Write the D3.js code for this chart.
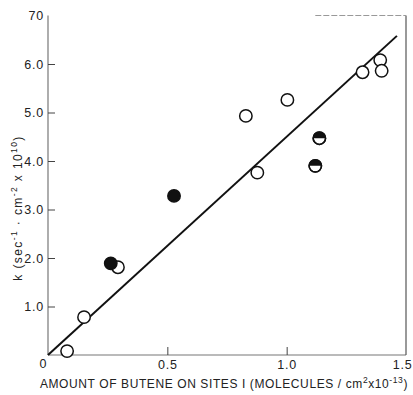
<!DOCTYPE html>
<html>
<head>
<meta charset="utf-8">
<script src="https://cdn.jsdelivr.net/npm/d3@7"></script>
<style>
  html, body { margin: 0; padding: 0; background: #fff; }
  svg { display: block; }
  text { font-family: "Liberation Sans", Arial, sans-serif; fill: #222; }
</style>
</head>
<body>
<div id="chart"></div>
<script>
// Butene coverage on sites I (x 10^13 molecules/cm^2) vs rate constant k (x 10^10)
const openX   = [0.08, 0.151, 0.293, 0.829, 0.877, 1.003, 1.318, 1.392, 1.398];
const openY   = [0.08, 0.78, 1.81, 4.93, 3.76, 5.26, 5.83, 6.08, 5.86];
const filledX = [0.263, 0.528];
const filledY = [1.89, 3.28];
const halfX   = [1.12, 1.137];
const halfY   = [3.90, 4.47];

// fitted line through the origin
const fitX = [0, 1.462];
const fitY = [0, 6.58];

const xTickValues = [0.5, 1.0, 1.5];
const xTickLabels = ["0.5", "1.0", "1.5"];
const yTickValues = [1, 2, 3, 4, 5, 6, 7];
const yTickLabels = ["1.0", "2.0", "3.0", "4.0", "5.0", "6.0", "70"];

const W = 413, H = 395;
const svg = d3.select("#chart").append("svg").attr("width", W).attr("height", H);

const x = d3.scaleLinear().domain([0, 1.5]).range([48, 406]);
const y = d3.scaleLinear().domain([0, 7]).range([355, 15.5]);

const axisColor = "#777";
const tickFont = "12.5px";

// frame: left, bottom, right, and the visible part of the top edge
svg.append("line").attr("x1", x(0)).attr("x2", x(0)).attr("y1", y(0)).attr("y2", y(7))
  .attr("stroke", axisColor).attr("stroke-width", 1.2);
svg.append("line").attr("x1", x(0)).attr("x2", x(1.5)).attr("y1", y(0)).attr("y2", y(0))
  .attr("stroke", axisColor).attr("stroke-width", 1.2);
svg.append("line").attr("x1", x(1.5)).attr("x2", x(1.5)).attr("y1", y(0)).attr("y2", y(7))
  .attr("stroke", "#555").attr("stroke-width", 1.2);
svg.append("line").attr("x1", x(1.12)).attr("x2", x(1.5)).attr("y1", y(7)).attr("y2", y(7))
  .attr("stroke", "#999").attr("stroke-width", 1).attr("stroke-dasharray", "6,2");

// y axis: inward ticks, labels on the left
const yAxis = d3.axisRight(y).tickValues(yTickValues).tickSize(7)
  .tickFormat((d, i) => yTickLabels[i]);
const gy = svg.append("g").attr("transform", `translate(${x(0)},0)`).call(yAxis);
gy.select(".domain").remove();
gy.selectAll(".tick line").attr("stroke", "#444").attr("stroke-width", 1);
gy.selectAll(".tick text").attr("x", -4).attr("text-anchor", "end")
  .style("font-size", tickFont).style("letter-spacing", "0.8px")
  .style("font-family", "Liberation Sans, Arial, sans-serif").attr("fill", "#222");
gy.selectAll(".tick").filter(d => d === 7).select("line").remove();

// x axis: inward ticks, labels below
const xAxis = d3.axisTop(x).tickValues(xTickValues).tickSize(8)
  .tickFormat((d, i) => xTickLabels[i]);
const gx = svg.append("g").attr("transform", `translate(0,${y(0)})`).call(xAxis);
gx.select(".domain").remove();
gx.selectAll(".tick line").attr("stroke", "#444").attr("stroke-width", 1);
gx.selectAll(".tick").filter(d => d === 1.5).select("line").remove();
gx.selectAll(".tick text").attr("y", 5).attr("dy", "0.71em")
  .style("font-size", tickFont).style("letter-spacing", "0.8px")
  .style("font-family", "Liberation Sans, Arial, sans-serif").attr("fill", "#222");
// keep the last label inside the page
gx.selectAll(".tick").filter(d => d === 1.5).select("text")
  .attr("text-anchor", "end").attr("x", 6);

// shared origin label
svg.append("text").attr("x", x(0) - 5).attr("y", y(0) + 13).attr("text-anchor", "middle")
  .style("font-size", tickFont).text("0");

// axis titles
svg.append("text")
  .attr("x", 224).attr("y", 388).attr("text-anchor", "middle")
  .style("font-size", "12px").style("letter-spacing", "0.6px")
  .html('AMOUNT OF BUTENE ON SITES I (MOLECULES / cm<tspan dy="-5" font-size="8.5">2</tspan><tspan dy="5">x10</tspan><tspan dy="-5" font-size="8.5">-13</tspan><tspan dy="5">)</tspan>');

svg.append("text")
  .attr("transform", "translate(22,208) rotate(-90)")
  .attr("text-anchor", "middle")
  .style("font-size", "12px").style("letter-spacing", "1.4px")
  .html('k (sec<tspan dy="-5" font-size="8.5">-1</tspan><tspan dy="5"> · cm</tspan><tspan dy="-5" font-size="8.5">-2</tspan><tspan dy="5"> x 10</tspan><tspan dy="-5" font-size="8.5">10</tspan><tspan dy="5">)</tspan>');

// fitted line
const line = d3.line().x((d, i) => x(fitX[i])).y((d, i) => y(fitY[i]));
svg.append("path").datum(fitX).attr("d", line)
  .attr("fill", "none").attr("stroke", "#111").attr("stroke-width", 2);

const R = 6.2;

// open circles
svg.append("g").selectAll("circle").data(openX).join("circle")
  .attr("cx", d => x(d)).attr("cy", (d, i) => y(openY[i])).attr("r", R)
  .attr("fill", "#fff").attr("stroke", "#111").attr("stroke-width", 1.5);

// filled circles
svg.append("g").selectAll("circle").data(filledX).join("circle")
  .attr("cx", d => x(d)).attr("cy", (d, i) => y(filledY[i])).attr("r", R)
  .attr("fill", "#111").attr("stroke", "#111").attr("stroke-width", 1.5);

// half-filled circles: dark upper half
const half = svg.append("g").selectAll("g").data(halfX).join("g")
  .attr("transform", (d, i) => `translate(${x(d)},${y(halfY[i])})`);
half.append("circle").attr("r", R).attr("fill", "#fff").attr("stroke", "#111").attr("stroke-width", 1.5);
half.append("path")
  .attr("d", d3.arc()({ innerRadius: 0, outerRadius: R, startAngle: -Math.PI / 2, endAngle: Math.PI / 2 }))
  .attr("fill", "#111");
half.append("circle").attr("r", R).attr("fill", "none").attr("stroke", "#111").attr("stroke-width", 1.5);
</script>
</body>
</html>
